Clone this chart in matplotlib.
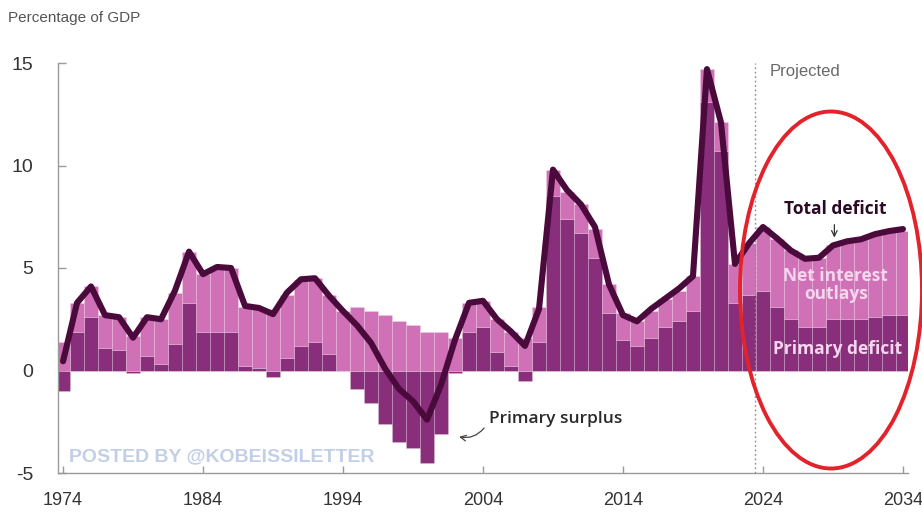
import matplotlib
matplotlib.use("Agg")
import matplotlib.pyplot as plt
from matplotlib.patches import Ellipse
import numpy as np

years = list(range(1974, 2035))

primary_deficit = [
    -1.0, 1.9, 2.6, 1.1, 1.0, -0.1, 0.7, 0.3, 1.3, 3.3,   # 1974-1983
    1.9, 1.9, 1.9, 0.2, 0.1, -0.3, 0.6, 1.2, 1.4, 0.8,    # 1984-1993
    0.0, -0.9, -1.6, -2.6, -3.5, -3.8, -4.5, -3.1, -0.1, 1.9,  # 1994-2003
    2.1, 0.9, 0.2, -0.5, 1.4, 8.5, 7.4, 6.7, 5.5, 2.8,    # 2004-2013
    1.5, 1.2, 1.6, 2.1, 2.4, 2.9, 13.1, 10.7, 3.3, 3.7,   # 2014-2023
    3.9, 3.1, 2.5, 2.1, 2.1, 2.5, 2.5, 2.5, 2.6, 2.7,     # 2024-2033
    2.7,                                                 # 2034
]

net_interest = [
    1.4, 1.4, 1.5, 1.6, 1.6, 1.7, 1.9, 2.2, 2.5, 2.5,
    2.8, 3.1, 3.1, 2.9, 2.9, 3.0, 3.1, 3.2, 3.1, 2.9,
    2.9, 3.1, 2.9, 2.7, 2.4, 2.2, 1.9, 1.9, 1.6, 1.4,
    1.3, 1.6, 1.7, 1.6, 1.7, 1.3, 1.3, 1.4, 1.4, 1.4,
    1.3, 1.2, 1.3, 1.4, 1.5, 1.7, 1.6, 1.4, 1.9, 2.5,
    3.1, 3.3, 3.4, 3.4, 3.4, 3.6, 3.8, 3.9, 4.0, 4.1,
    4.1,
]

total_deficit = [
    0.45, 3.3, 4.1, 2.7, 2.6, 1.6, 2.6, 2.5, 3.9, 5.8,
    4.7, 5.05, 5.0, 3.15, 3.05, 2.75, 3.8, 4.45, 4.5, 3.65,
    2.9, 2.2, 1.35, 0.1, -0.9, -1.5, -2.4, -0.7, 1.5, 3.3,
    3.4, 2.5, 1.9, 1.2, 3.0, 9.8, 8.8, 8.1, 7.0, 4.2,
    2.7, 2.4, 3.0, 3.5, 4.0, 4.6, 14.7, 12.1, 5.2, 6.2,
    7.0, 6.45, 5.85, 5.45, 5.5, 6.1, 6.3, 6.4, 6.65, 6.8,
    6.9,
]

y_ticks = [-5, 0, 5, 10, 15]
x_ticks = [1974, 1984, 1994, 2004, 2014, 2024, 2034]

DARK = "#882e7a"
LIGHT = "#d070b6"
LINE = "#4a0a3c"

W, H = 922, 514
fig = plt.figure(figsize=(W / 100, H / 100), dpi=100)
ax = fig.add_axes([58 / W, 1 - 473 / H, (908 - 58) / W, (473 - 63) / H])

yrs = np.array(years)
prim = np.array(primary_deficit)
intr = np.array(net_interest)
pos_prim = np.where(prim > 0, prim, 0)
neg_prim = np.where(prim < 0, prim, 0)

edge = (1, 1, 1, 0.25)
ax.bar(yrs, pos_prim, width=1.0, color=DARK, edgecolor=edge, linewidth=0.5, zorder=2)
ax.bar(yrs, neg_prim, width=1.0, color=DARK, edgecolor=edge, linewidth=0.5, zorder=2)
ax.bar(yrs, intr, width=1.0, bottom=pos_prim, color=LIGHT, edgecolor=edge, linewidth=0.5, zorder=2)

ax.plot(yrs, total_deficit, color=LINE, linewidth=4.4, solid_joinstyle="round",
        solid_capstyle="round", zorder=4)

ax.set_xlim(1973.64, 2034.36)
ax.set_ylim(-5, 15)

for s in ["top", "right"]:
    ax.spines[s].set_visible(False)
for s in ["left", "bottom"]:
    ax.spines[s].set_color("#9a9a9a")
    ax.spines[s].set_linewidth(1.0)

tick_font = dict(family=["Liberation Sans", "DejaVu Sans"])
ax.set_yticks(y_ticks)
ax.set_yticklabels([str(t) for t in y_ticks], fontsize=14, color="#333333", **tick_font)
ax.set_xticks(x_ticks)
ax.set_xticklabels([str(t) for t in x_ticks], fontsize=13, color="#333333", **tick_font)
ax.tick_params(axis="y", direction="in", length=6, width=1, color="#9a9a9a", pad=18)
ax.tick_params(axis="x", direction="in", length=5, width=1, color="#9a9a9a", pad=14)
# keep the last year label inside the canvas
ax.get_xticklabels()[-1].set_horizontalalignment("center")
ax.get_xticklabels()[-1].set_x(2033.9)

# projection divider
ax.axvline(2023.45, ymin=0, ymax=1, color="#8a8a8a", linestyle=(0, (1.2, 2)),
           linewidth=1.0, zorder=3)
ax.text(2024.5, 14.6, "Projected", fontsize=12, color="#6a6a6a",
        family=["Liberation Sans"], va="center", ha="left")

ann_font = ["Open Sans", "DejaVu Sans"]
ax.text(2029.15, 7.9, "Total deficit", fontsize=12.5, fontweight="bold", color="#2b0a26",
        family=ann_font, ha="center", va="center", zorder=6)
ax.annotate("", xy=(2029.1, 6.35), xytext=(2029.1, 7.25),
            arrowprops=dict(arrowstyle="->", color="#333333", lw=0.9), zorder=6)
ax.text(2029.2, 4.15, "Net interest\noutlays", fontsize=12.5, fontweight="bold",
        color="#f6d6ee", family=ann_font, ha="center", va="center",
        linespacing=1.0, zorder=6)
ax.text(2029.35, 1.05, "Primary deficit", fontsize=12.5, fontweight="bold",
        color="#f6d6ee", family=ann_font, ha="center", va="center", zorder=6)

ax.text(2004.4, -2.35, "Primary surplus", fontsize=12.5, fontweight="semibold",
        color="#2a2a2a", family=ann_font, ha="left", va="center", zorder=6)
ax.annotate("", xy=(2002.1, -3.2), xytext=(2004.2, -2.7),
            arrowprops=dict(arrowstyle="->", color="#444444", lw=0.9,
                            connectionstyle="arc3,rad=-0.35"), zorder=6)

ax.text(1974.4, -4.22, "POSTED BY @KOBEISSILETTER", fontsize=14, fontweight="bold",
        color="#c3cfe8", family=["Liberation Sans", "DejaVu Sans"], ha="left",
        va="center", zorder=5)

fig.text(8 / W, 1 - 18 / H, "Percentage of GDP", fontsize=11, color="#555555",
         family=["Liberation Sans", "DejaVu Sans"], ha="left", va="center")

ell = Ellipse((831 / W, 1 - 290 / H), 182 / W, 357 / H, transform=fig.transFigure,
              fill=False, edgecolor="#e2232b", linewidth=2.8, zorder=10, clip_on=False)
fig.add_artist(ell)

fig.savefig("out.png", dpi=100)
